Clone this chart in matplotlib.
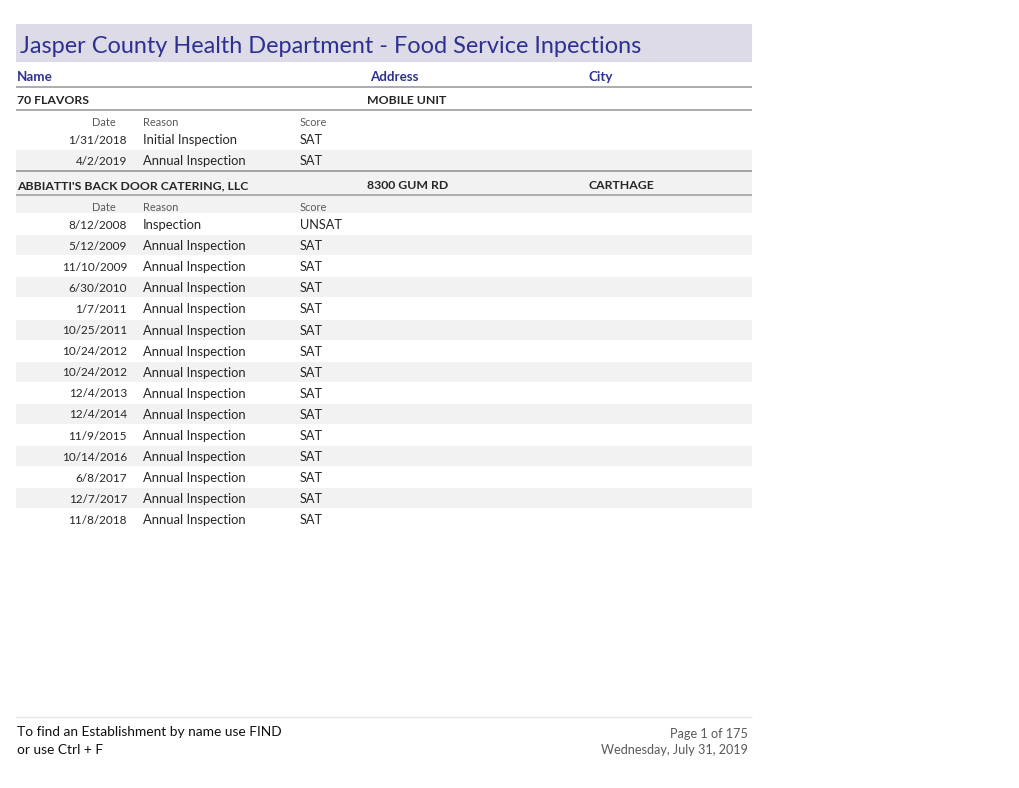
import matplotlib.pyplot as plt
from matplotlib.patches import Rectangle

plt.rcParams['font.family'] = ['Lato', 'DejaVu Sans']

# Report content
title = "Jasper County Health Department - Food Service Inpections"
col_headers = ["Name", "Address", "City"]

est_names = ["70 FLAVORS", "ABBIATTI'S BACK DOOR CATERING, LLC"]
est_addresses = ["MOBILE UNIT", "8300 GUM RD"]
est_cities = ["", "CARTHAGE"]

dates_1 = ["1/31/2018", "4/2/2019"]
reasons_1 = ["Initial Inspection", "Annual Inspection"]
scores_1 = ["SAT", "SAT"]

dates_2 = ["8/12/2008", "5/12/2009", "11/10/2009", "6/30/2010", "1/7/2011",
           "10/25/2011", "10/24/2012", "10/24/2012", "12/4/2013", "12/4/2014",
           "11/9/2015", "10/14/2016", "6/8/2017", "12/7/2017", "11/8/2018"]
reasons_2 = ["Inspection"] + ["Annual Inspection"] * 14
scores_2 = ["UNSAT"] + ["SAT"] * 14

footer_left = ["To find an Establishment by name use FIND", "or use Ctrl + F"]
footer_right = ["Page 1 of 175", "Wednesday, July 31, 2019"]

BLUE = '#2e3192'
GRAY_BG = '#f2f2f2'
LINE = '#a6a6a6'
TXT = '#262626'

fig = plt.figure(figsize=(10.2, 7.88), dpi=100)
ax = fig.add_axes([0, 0, 1, 1])
ax.set_xlim(0, 1020)
ax.set_ylim(788, 0)
ax.axis('off')

L, R = 16, 752


def hline(y, color=LINE, lw=1.3):
    ax.plot([L, R], [y, y], color=color, lw=lw, solid_capstyle='butt')


def band(y0, y1, color=GRAY_BG):
    ax.add_patch(Rectangle((L, y0), R - L, y1 - y0, color=color, lw=0))


# title band
band(24, 62, '#dddbe7')
ax.text(20, 46, title, fontsize=16.9, color=BLUE, va='center', ha='left')

# column header
for x, h in zip([17, 370, 589], col_headers):
    ax.text(x, 76.5, h, fontsize=9.6, color=BLUE, fontweight='bold', va='center')
hline(87)


def section(y, name, addr, city, dates, reasons, scores, shade_head):
    # establishment row
    if shade_head:
        band(y - 13, y + 9)
        band(y + 11, y + 28)
    for x, t in zip([17, 367, 589], [name, addr, city]):
        ax.text(x, y + 0.5, t, fontsize=8.8, color=TXT, fontweight='bold', va='center')
    hline(y + 10)
    sy = y + 22
    ax.text(116, sy, "Date", fontsize=7.9, color='#595959', ha='right', va='center')
    ax.text(143, sy, "Reason", fontsize=7.9, color='#595959', va='center')
    ax.text(300, sy, "Score", fontsize=7.9, color='#595959', va='center')
    ry = sy + 17
    for i, (d, r, s) in enumerate(zip(dates, reasons, scores)):
        yy = ry + i * 21.1
        if i % 2 == 1:
            band(yy - 10, yy + 10)
        ax.text(127, yy + 1, d, fontsize=8.5, color=TXT, ha='right', va='center')
        ax.text(143, yy + 1, r, fontsize=9.4, color=TXT, va='center')
        ax.text(300, yy + 1, s, fontsize=9.2, color=TXT, va='center')
    return ry + len(dates) * 21.1


section(100, est_names[0], est_addresses[0], est_cities[0],
        dates_1, reasons_1, scores_1, False)
hline(171)
section(185, est_names[1], est_addresses[1], est_cities[1],
        dates_2, reasons_2, scores_2, True)
hline(171)

# footer
hline(717, color='#e6e6e6', lw=1)
ax.text(17, 731.5, footer_left[0], fontsize=9.9, color='#111111', va='center')
ax.text(17, 750.5, footer_left[1], fontsize=9.9, color='#111111', va='center')
ax.text(748, 734.5, footer_right[0], fontsize=9.1, color='#595959', ha='right', va='center')
ax.text(748, 750.5, footer_right[1], fontsize=9.1, color='#595959', ha='right', va='center')

fig.savefig('out.png', dpi=100)
